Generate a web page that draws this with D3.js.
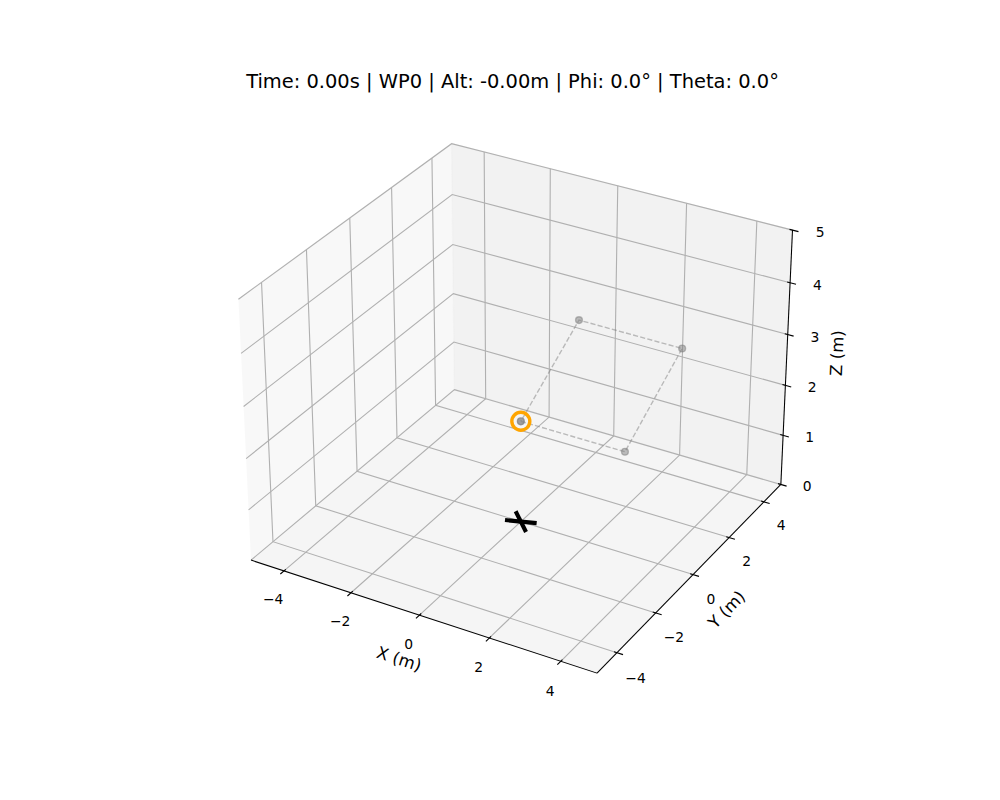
<!DOCTYPE html>
<html><head><meta charset="utf-8">
<script src="https://cdn.jsdelivr.net/npm/d3@7"></script>
<style>body{margin:0;background:#fff} svg{display:block}</style>
</head><body><svg id="c" width="1000" height="800"></svg>
<script>
// ---- data ----
const titleText = "Time: 0.00s | WP0 | Alt: -0.00m | Phi: 0.0° | Theta: 0.0°";
const xLim = [-5, 5], yLim = [-5, 5], zLim = [0, 5];
const xTicks = [-4, -2, 0, 2, 4];
const yTicks = [-4, -2, 0, 2, 4];
const zTicks = [0, 1, 2, 3, 4, 5];
const axisLabels = ["X (m)", "Y (m)", "Z (m)"];
const wpX = [0, 3, 3, 0];
const wpY = [0, 0, 3, 3];
const wpZ = [2, 2, 3, 3];
const currentWP = 0;
const droneX = 0, droneY = 0, droneZ = 0;
// drone arm half-vectors
const armDX = [0.34, 0.3];
const armDY = [0.12, -0.3];
const armDZ = [0, 0];
const elev = 30, azim = -60;

// ---- projection (matplotlib-like 3D) ----
const svg = d3.select("#c");
const FONT = "DejaVu Sans, Liberation Sans, sans-serif";
const dist = 10;
const raw = [4, 4, 3];
const nrm = Math.hypot(...raw);
const A = raw.map(a => a * 1.8294640721620434 * 25 / 24 / nrm);
const R = A.map(a => a / 2);
const er = elev * Math.PI / 180, ar = azim * Math.PI / 180;
const W = [Math.cos(er) * Math.cos(ar), Math.cos(er) * Math.sin(ar), Math.sin(er)];
const cross = (a, b) => [a[1]*b[2]-a[2]*b[1], a[2]*b[0]-a[0]*b[2], a[0]*b[1]-a[1]*b[0]];
const dot = (a, b) => a[0]*b[0] + a[1]*b[1] + a[2]*b[2];
const norm = a => { const l = Math.hypot(...a); return a.map(c => c / l); };
const U = norm(cross([0, 0, 1], W));
const Vv = cross(W, U);
const sx = d3.scaleLinear().domain([-0.095, 0.09]).range([204.5, 820.5]);
const sy = d3.scaleLinear().domain([-0.095, 0.09]).range([712, 96]);
const lims = [xLim, yLim, zLim];
function proj(x, y, z) {
  const p = [x, y, z].map((c, i) => (c - lims[i][0]) / (lims[i][1] - lims[i][0]) * A[i] - R[i]);
  const du = dot(U, p), dv = dot(Vv, p), dw = dot(W, p);
  const den = dist - dw;
  return [sx(du / den), sy(dv / den)];
}
const line = d3.line().x(d => d[0]).y(d => d[1]);
const P = pts => line(pts.map(p => proj(...p)));

const mins = [xLim[0], yLim[0], zLim[0]], maxs = [xLim[1], yLim[1], zLim[1]];
const centers = mins.map((m, i) => (m + maxs[i]) / 2);
const deltas = mins.map((m, i) => (maxs[i] - m) / 12);
// back planes: x=min, y=max, z=min
const minmax = [xLim[0], yLim[1], zLim[0]];
const maxmin = [xLim[1], yLim[0], zLim[1]];

// ---- panes ----
const gPane = svg.append("g");
const panes = [
  {pts: [[minmax[0], mins[1], mins[2]], [minmax[0], maxs[1], mins[2]], [minmax[0], maxs[1], maxs[2]], [minmax[0], mins[1], maxs[2]]], c: "rgb(242,242,242)"},
  {pts: [[mins[0], minmax[1], mins[2]], [maxs[0], minmax[1], mins[2]], [maxs[0], minmax[1], maxs[2]], [mins[0], minmax[1], maxs[2]]], c: "rgb(230,230,230)"},
  {pts: [[mins[0], mins[1], minmax[2]], [maxs[0], mins[1], minmax[2]], [maxs[0], maxs[1], minmax[2]], [mins[0], maxs[1], minmax[2]]], c: "rgb(236,236,236)"}
];
panes.forEach(pn => {
  gPane.append("path").attr("d", P(pn.pts) + "Z").attr("fill", pn.c).attr("fill-opacity", 0.5).attr("stroke", "none");
  gPane.append("path").attr("d", P(pn.pts)).attr("fill", "none").attr("stroke", pn.c).attr("stroke-opacity", 0.5).attr("stroke-width", 1.39);
});

// ---- grid ----
const gGrid = svg.append("g").attr("fill", "none").attr("stroke", "#b0b0b0").attr("stroke-width", 1.11);
const tickSets = [xTicks, yTicks, zTicks];
tickSets.forEach((ticks, index) => {
  ticks.forEach(t => {
    const p0 = minmax.slice(); p0[index] = t;
    const a = p0.slice(), c = p0.slice();
    const i2 = (index + 1) % 3, i1 = (index + 2) % 3;
    a[i2] = maxmin[i2];
    c[i1] = maxmin[i1];
    gGrid.append("path").attr("d", P([a, p0, c]));
  });
});

// ---- axes lines, ticks, labels ----
const gAx = svg.append("g");
const edges = [
  [[mins[0], maxmin[1], minmax[2]], [maxs[0], maxmin[1], minmax[2]]],
  [[maxmin[0], maxs[1], minmax[2]], [maxmin[0], mins[1], minmax[2]]],
  [[maxmin[0], minmax[1], mins[2]], [maxmin[0], minmax[1], maxs[2]]]
];
const tickDir = [1, 0, 0];
const highs = [false, true, false];
const dppTick = 48 / 887.04;
const dppLabel = 48 / 1001.52;
const fmt = v => (v < 0 ? "\u2212" + Math.abs(v) : String(v));
edges.forEach((e, index) => {
  gAx.append("path").attr("d", P(e)).attr("stroke", "#000").attr("stroke-width", 1.04).attr("fill", "none");
  const td = tickDir[index];
  const tdelta = highs[td] ? deltas[td] : -deltas[td];
  const edgeTd = e[0][td];
  tickSets[index].forEach(t => {
    const pos = e[0].slice(); pos[index] = t;
    const a = pos.slice(); a[td] = edgeTd + 0.1 * tdelta;
    const b = pos.slice(); b[td] = edgeTd - 0.2 * tdelta;
    gAx.append("path").attr("d", P([a, b])).attr("stroke", "#000").attr("stroke-width", 1.11);
    const lp = pos.slice();
    for (let k = 0; k < 3; k++) {
      if (k === index) continue;
      lp[k] = lp[k] + Math.sign(lp[k] - centers[k] || 1) * (3.5 + 8) * dppTick * deltas[k];
    }
    const [lx, ly] = proj(...lp);
    gAx.append("text").attr("x", lx).attr("y", ly + 10.6)
      .attr("text-anchor", "middle").attr("font-family", FONT).attr("font-size", 13.89)
      .attr("fill", "#000").text(fmt(t));
  });
  // axis label
  const mid = e[0].map((c, k) => (c + e[1][k]) / 2);
  for (let k = 0; k < 3; k++) {
    if (k === index) continue;
    mid[k] = mid[k] + Math.sign(mid[k] - centers[k] || 1) * (4 + 21) * dppLabel * deltas[k];
  }
  const [mx, my] = proj(...mid);
  const e0 = proj(...e[0]), e1 = proj(...e[1]);
  let ang = Math.atan2(-(e1[1] - e0[1]), e1[0] - e0[0]) * 180 / Math.PI;
  ang = ((ang + 180) % 180 + 180) % 180;
  if (ang > 90) ang -= 180;
  gAx.append("text").attr("transform", `translate(${mx},${my}) rotate(${-ang})`)
    .attr("text-anchor", "middle").attr("dy", 4.4)
    .attr("font-family", FONT).attr("font-size", 16.67).attr("fill", "#000")
    .text(axisLabels[index]);
});

// ---- data ----
const gData = svg.append("g");
const wpPts = wpX.map((x, i) => [x, wpY[i], wpZ[i]]);
gData.append("path").attr("d", P(wpPts.concat([wpPts[0]])))
  .attr("fill", "none").attr("stroke", "#808080").attr("stroke-opacity", 0.5)
  .attr("stroke-width", 1.39).attr("stroke-dasharray", "5.14,2.22");
wpPts.forEach((p, i) => {
  const [x, y] = proj(...p);
  const op = i === currentWP ? 0.75 : 0.5;
  gData.append("circle").attr("cx", x).attr("cy", y).attr("r", 3.4)
    .attr("fill", "#808080").attr("fill-opacity", op)
    .attr("stroke", "#808080").attr("stroke-opacity", op).attr("stroke-width", 1.39);
});
{
  const [x, y] = proj(wpX[currentWP], wpY[currentWP], wpZ[currentWP]);
  gData.append("circle").attr("cx", x).attr("cy", y).attr("r", 9)
    .attr("fill", "none").attr("stroke", "orange").attr("stroke-width", 3.4);
}
armDX.forEach((ax, i) => {
  const a = [[droneX - ax, droneY - armDY[i], droneZ - armDZ[i]], [droneX + ax, droneY + armDY[i], droneZ + armDZ[i]]];
  gData.append("path").attr("d", P(a)).attr("stroke", "#000").attr("stroke-width", 4.17)
    .attr("stroke-linecap", "square").attr("fill", "none");
});

// ---- title ----
svg.append("text").attr("x", 512.5).attr("y", 87.7).attr("text-anchor", "middle")
  .attr("font-family", FONT).attr("font-size", 19.44).attr("fill", "#000").text(titleText);
</script></body></html>
